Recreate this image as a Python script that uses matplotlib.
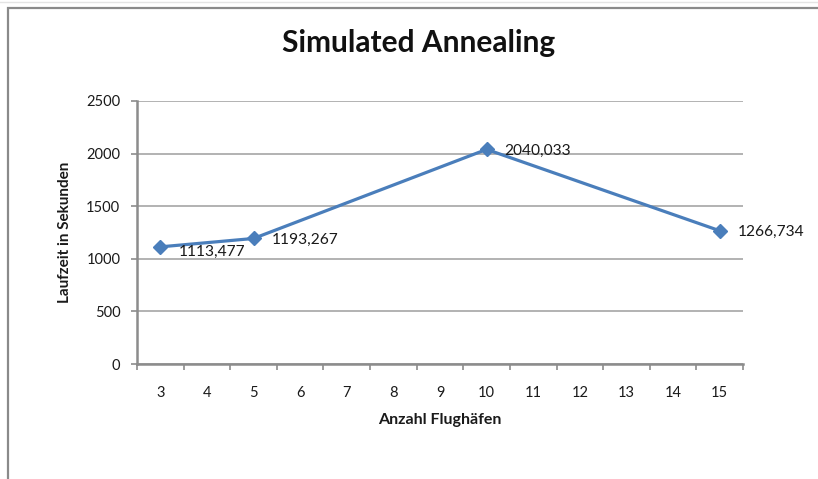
import matplotlib
matplotlib.use("Agg")
import matplotlib.pyplot as plt
from matplotlib.patches import Rectangle
from matplotlib.lines import Line2D

# ── data ──────────────────────────────────────────────────────────────────────
CATEGORIES = [3, 4, 5, 6, 7, 8, 9, 10, 11, 12, 13, 14, 15]
POINT_X = [3, 5, 10, 15]
RUNTIME = [1113.477, 1193.267, 2040.033, 1266.734]
Y_TICKS = [0, 500, 1000, 1500, 2000, 2500]

LINE_COLOR = "#4A7EBB"
AXIS_GRAY = "#8C8C8C"
GRID_GRAY = "#A6A6A6"

plt.rcParams["font.family"] = ["Lato", "DejaVu Sans"]

fig = plt.figure(figsize=(8.18, 4.79), dpi=100)
W, H = 818, 479
ax = fig.add_axes([137 / W, 1 - 364 / H, (743 - 137) / W, (364 - 101) / H])

# category axis: one slot per category, data sits at its category index
idx = [CATEGORIES.index(c) for c in POINT_X]
ax.plot(idx, RUNTIME, color=LINE_COLOR, lw=2.3, marker="D", ms=7.5,
        mfc=LINE_COLOR, mec=LINE_COLOR, zorder=3, clip_on=False)

for x, v in zip(idx, RUNTIME):
    lbl = f"{v:.3f}".replace(".", ",")
    dy = -3.5 if x == 0 else -1
    ax.annotate(lbl, (x, v), xytext=(13, dy), textcoords="offset points",
                ha="left", va="center", fontsize=11.2, color="#1a1a1a", zorder=4)

ax.set_xlim(-0.5, len(CATEGORIES) - 0.5)
ax.set_ylim(0, 2500)
ax.set_yticks(Y_TICKS)
ax.set_yticklabels([str(t) for t in Y_TICKS])
ax.set_xticks(range(len(CATEGORIES)))
ax.set_xticklabels([str(c) for c in CATEGORIES])
ax.set_xticks([i - 0.5 for i in range(len(CATEGORIES) + 1)], minor=True)

ax.tick_params(axis="x", which="major", length=0, pad=16, labelsize=10.5, labelcolor="#1a1a1a")
ax.tick_params(axis="x", which="minor", length=4, width=1.2, color=AXIS_GRAY, direction="out")
ax.tick_params(axis="y", length=4, width=1.2, color=AXIS_GRAY, pad=8, labelsize=10.5,
               labelcolor="#1a1a1a")

ax.yaxis.grid(True, color=GRID_GRAY, lw=1.2)
ax.set_axisbelow(True)
for side in ("top", "right"):
    ax.spines[side].set_visible(False)
for side in ("left", "bottom"):
    ax.spines[side].set_color(AXIS_GRAY)
    ax.spines[side].set_linewidth(1.8)

ax.set_xlabel("Anzahl Flughäfen", fontsize=11.5, fontweight="bold", labelpad=9, color="#1a1a1a")
ax.set_ylabel("Laufzeit in Sekunden", fontsize=11, fontweight="bold", labelpad=10, color="#1a1a1a")

fig.text(419 / W, 1 - 43 / H, "Simulated Annealing", ha="center", va="center",
         fontsize=21.5, fontweight="bold", color="#111111")

# chart frame (open to the right and bottom)
fig.add_artist(Rectangle((8 / W, -0.1), 1.2, 1.1 - 8 / H, transform=fig.transFigure,
                         fill=False, ec="#8A8A8A", lw=1.6))
fig.add_artist(Line2D([0, 1], [1 - 2 / H, 1 - 2 / H], transform=fig.transFigure,
                      color="#E4E4E4", lw=1))

fig.savefig("out.png", dpi=100, facecolor="white")
